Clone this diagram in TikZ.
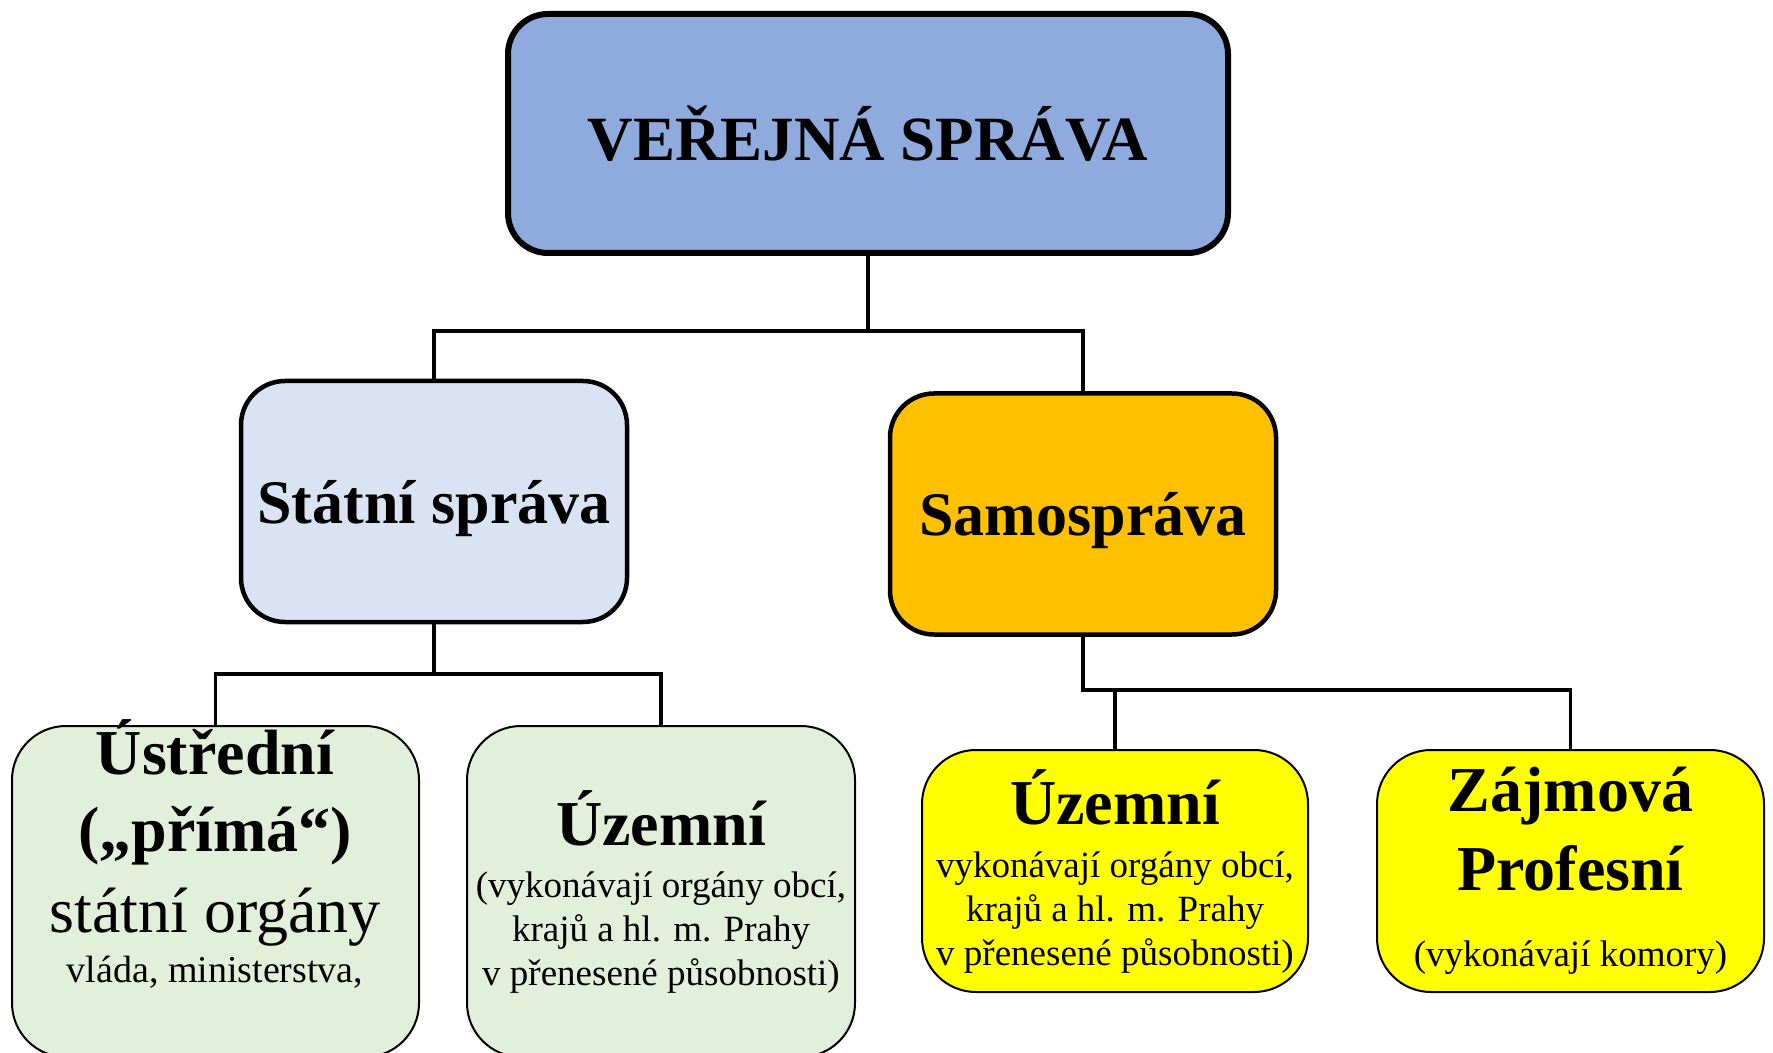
\documentclass[tikz,border=0pt]{standalone}
\usepackage{fontspec}
\setmainfont{Liberation Serif}
\definecolor{headblue}{HTML}{8FAADC}
\definecolor{statblue}{HTML}{DAE3F3}
\definecolor{samoorange}{HTML}{FFC000}
\definecolor{leafgreen}{HTML}{E2EFDA}
\definecolor{leafyellow}{HTML}{FFFF00}
\begin{document}
\begin{tikzpicture}[x=0.5pt,y=-0.5pt,
                    box/.style={draw,align=center,inner sep=0pt},
                    head node/.style={box,fill=headblue,line width=3pt,rounded corners=20pt,
                      minimum width=360pt,minimum height=119.5pt,font=\fontsize{31.5}{38}\selectfont\bfseries},
                    branch node/.style={box,line width=2.25pt,rounded corners=22pt,text depth=0pt,
                      minimum width=193pt,minimum height=120.5pt,font=\fontsize{31}{37}\selectfont\bfseries},
                    leaf node/.style={box,line width=1pt,rounded corners=27pt,minimum width=194pt},
                    conn/.style={line width=1.7pt}]
  \useasboundingbox (0,0) rectangle (1773,1053);
  \node[head node] (verejna) at (868,133.5) {VEŘEJNÁ SPRÁVA};
  \node[branch node,fill=statblue] (statni) at (434,501.5) {Státní správa};
  \node[branch node,fill=samoorange] (samo) at (1083,514) {Samospráva};
  \node[leaf node,fill=leafgreen,minimum width=203.5pt,minimum height=165.5pt] (ustredni) at (215.5,891.5) {};
  \node[align=center,inner sep=0pt,font=\fontsize{32}{38.5}\selectfont\bfseries] (ustrtext) at (215,854)
    {Ústřední\\(„přímá“)\\[2pt]{\fontsize{32}{38}\selectfont\mdseries státní orgány}\\[-13.5pt]{\fontsize{19}{23}\selectfont\mdseries vláda, ministerstva,}};
  \node[leaf node,fill=leafgreen,minimum height=165.5pt,font=\fontsize{18.5}{21.8}\selectfont] (uzemni) at (661,891.5)
    {{\fontsize{32}{38}\selectfont\bfseries Územní}\\[4.6pt](vykonávají orgány obcí,\\krajů a hl. m. Prahy\\v přenesené působnosti)};
  \node[leaf node,fill=leafyellow,minimum width=193pt,minimum height=121pt,font=\fontsize{18.5}{22}\selectfont] (samouzemni) at (1115,871)
    {{\fontsize{32}{38}\selectfont\bfseries Územní}\\[4.5pt]vykonávají orgány obcí,\\krajů a hl. m. Prahy\\v přenesené působnosti)};
  \node[leaf node,fill=leafyellow,minimum width=193.5pt,minimum height=121pt,font=\fontsize{32}{39.7}\selectfont\bfseries] (zajmova) at (1570.5,871)
    {Zájmová\\Profesní\\[-1.7pt]{\fontsize{18.5}{21.5}\selectfont\mdseries (vykonávají komory)}};
  % spojnice
  \coordinate (jtop) at (868,331);
  \coordinate (jstat) at (434,674);
  \coordinate (jsamo) at (1083,690);
  \draw[conn] (verejna.south) -- (jtop);
  \draw[conn] (statni.north) |- (jtop) -| (samo.north);
  \draw[conn] (statni.south) -- (jstat);
  \draw[conn] (ustredni.north) |- (jstat) -| (uzemni.north);
  \draw[conn] (samo.south) -- (jsamo) -| (zajmova.north);
  \draw[conn] (samouzemni.north) -- (samouzemni.north |- jsamo);
\end{tikzpicture}
\end{document}
